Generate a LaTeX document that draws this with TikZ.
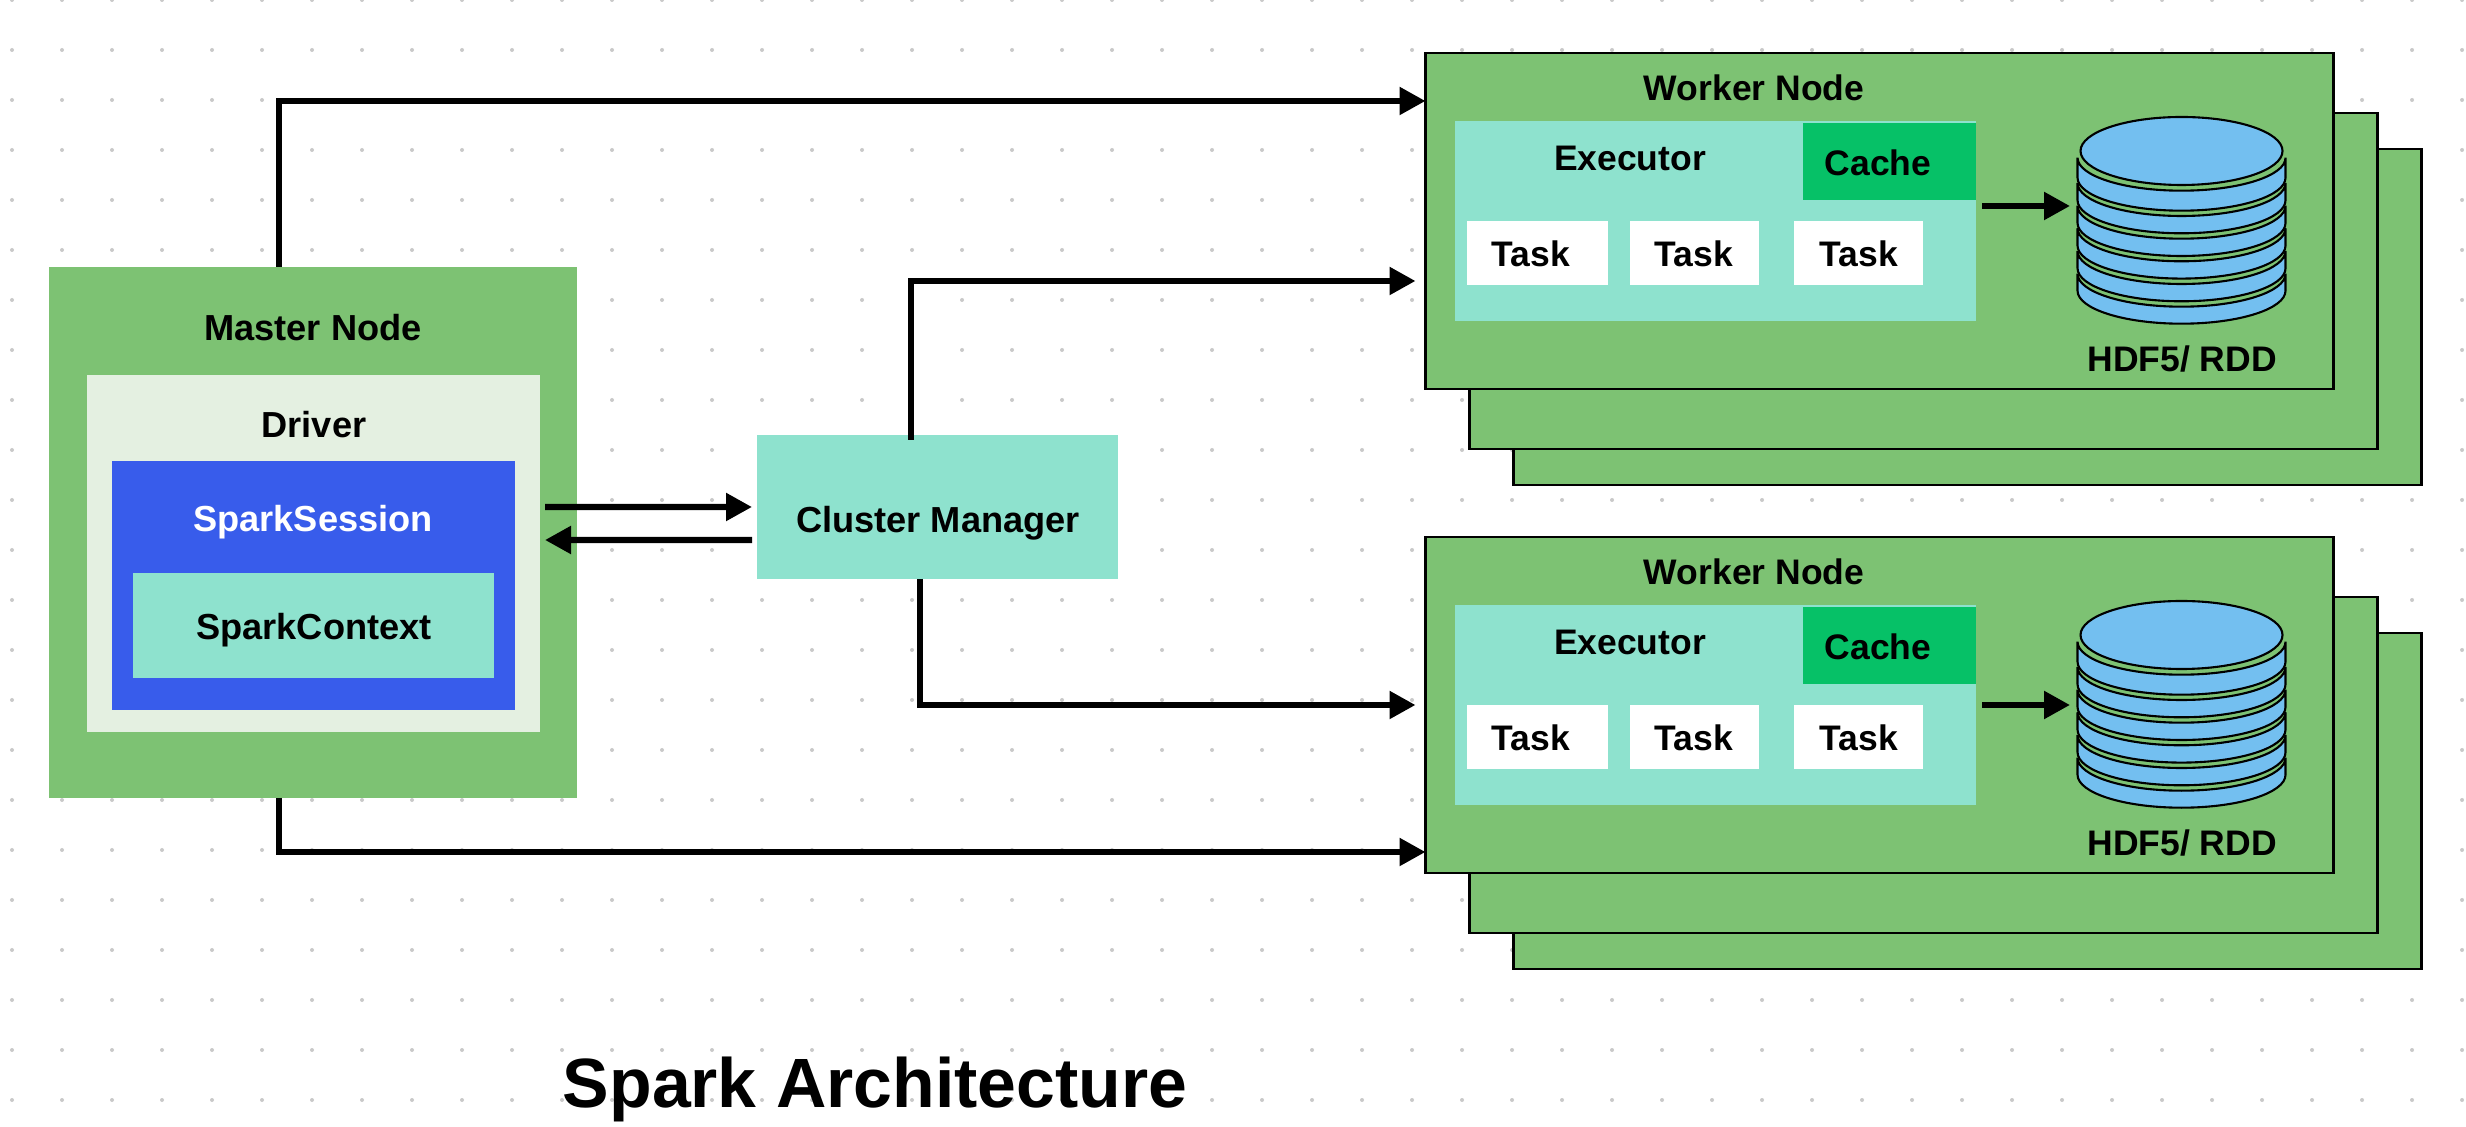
\documentclass[tikz,border=0pt]{standalone}
\usepackage{fontspec}
\setmainfont{Liberation Sans}
\usetikzlibrary{arrows.meta}
\tikzset{box/.style = {rectangle, inner sep = 0, outer sep = 0}}
\tikzset{wbox/.style = {box, fill = mgreen, draw = black, line width = 0.8pt, minimum width = 9.08cm, minimum height = 3.36cm}}
\tikzset{lbl/.style = {anchor = base, inner sep = 0, font = \fontsize{10.1}{12}\selectfont\bfseries}}
\tikzset{mlbl/.style = {lbl, font = \fontsize{10.3}{12}\selectfont\bfseries}}
\tikzset{flow/.style = {line width = 1.75pt, -{Triangle[length = 7.4pt, width = 7.6pt]}}}
\tikzset{disk/.style = {fill = mdisk, draw = black, line width = 0.6pt}}
\definecolor{mgreen}{HTML}{7DC273}
\definecolor{mmint}{HTML}{8EE2CE}
\definecolor{mpale}{HTML}{E4F0E1}
\definecolor{mblue}{HTML}{385CEB}
\definecolor{mcache}{HTML}{06C167}
\definecolor{mdisk}{HTML}{73BFF0}
\definecolor{mdot}{HTML}{C9C9C9}
\begin{document}
\begin{tikzpicture}
    \useasboundingbox (0, 0) rectangle (24.66, 11.26);

    \foreach \i in {0, ..., 49}
        \foreach \j in {0, ..., 22}
            \fill [mdot] ({0.12 + 0.5 * \i}, {11.26 - 0.5 * \j}) circle (0.02);

    \node [box, fill = mgreen, minimum width = 5.28cm, minimum height = 5.31cm] (master) at (3.13, 5.935) {};
    \node [box, fill = mpale, minimum width = 4.53cm, minimum height = 3.57cm] (driver) at (3.135, 5.725) {};
    \node [box, fill = mblue, minimum width = 4.03cm, minimum height = 2.49cm] (session) at (3.135, 5.405) {};
    \node [box, fill = mmint, minimum width = 3.61cm, minimum height = 1.05cm] (context) at (3.135, 5.005) {};
    \node [mlbl] (masterlbl) at (3.13, 7.855) {Master Node};
    \node [mlbl] (driverlbl) at (3.14, 6.885) {Driver};
    \node [mlbl, text = white] (sessionlbl) at (3.13, 5.94) {SparkSession};
    \node [mlbl] (contextlbl) at (3.14, 4.865) {SparkContext};

    \node [box, fill = mmint, minimum width = 3.61cm, minimum height = 1.44cm] (cluster) at (9.375, 6.19) {};
    \node [mlbl] (clusterlbl) at (9.38, 5.935) {Cluster Manager};

    \foreach \n/\dy/\ay in {a/0/9.20, b/-4.84/9.05} {
        \begin{scope}[yshift = \dy cm]
            \node [wbox] (back\n) at (19.675, 8.09) {};
            \node [wbox] (mid\n) at (19.235, 8.45) {};
            \node [wbox] (w\n) at (18.795, 9.05) {};
            \node [lbl] (wlbl\n) at (17.54, 10.255) {Worker Node};

            \node [box, fill = mmint, minimum width = 5.21cm, minimum height = 2.00cm] (exec\n) at (17.155, 9.05) {};
            \node [lbl] (execlbl\n) at (16.30, 9.555) {Executor};
            \node [box, fill = mcache, minimum width = 1.73cm, minimum height = 0.77cm] (cache\n) at (18.895, 9.645) {};
            \node [lbl] (cachelbl\n) at (18.78, 9.505) {Cache};

            \foreach \k/\x/\w/\t in {1/15.375/1.41/15.31, 2/16.945/1.29/16.94, 3/18.585/1.29/18.59} {
                \node [box, fill = white, minimum width = \w cm, minimum height = 0.64cm] (task\n\k) at (\x, 8.73) {};
                \node [lbl] (tasklbl\n\k) at (\t, 8.59) {Task};
            }

            \foreach \ly/\lh in {9.353/0.20, 9.10/0.173, 8.873/0.173, 8.647/0.173, 8.42/0.173, 8.193/0.17}
                \draw [disk] (20.775, {\ly + 0.33}) arc [start angle = 180, end angle = 360, x radius = 1.04, y radius = 0.33]
                    -- ++(0, -\lh) arc [start angle = 0, end angle = -180, x radius = 1.04, y radius = 0.33] -- cycle;
            \draw [disk] (21.815, 9.75) ellipse [x radius = 1.01, y radius = 0.34];
            \node [lbl] (storelbl\n) at (21.82, 7.54) {HDF5/ RDD};

            \coordinate (store\n) at (20.70, \ay);
            \draw [flow] ([xshift = 0.06cm] exec\n.east |- store\n) -- (store\n);
        \end{scope}
    }

    \draw [flow] ([xshift = -0.34cm] master.north) |- ([yshift = 1.20cm] wa.west);
    \draw [flow] ([xshift = -0.34cm] master.south) |- ([yshift = -1.47cm] wb.west);
    \draw [flow] ([shift = {(-0.265, -0.05)}] cluster.north) |- ([shift = {(-0.10, -0.60)}] wa.west);
    \draw [flow] ([xshift = -0.175cm] cluster.south) |- ([xshift = -0.10cm] wb.west);
    \draw [flow] ([shift = {(0.05, 0.465)}] driver.east) -- ([xshift = -0.05cm] cluster.west);
    \draw [flow] ([shift = {(-0.05, -0.33)}] cluster.west) -- ([shift = {(0.05, 0.135)}] driver.east);

    \node [lbl, font = \fontsize{19.85}{24}\selectfont\bfseries] (title) at (8.75, 0.19) {Spark Architecture};
\end{tikzpicture}
\end{document}
